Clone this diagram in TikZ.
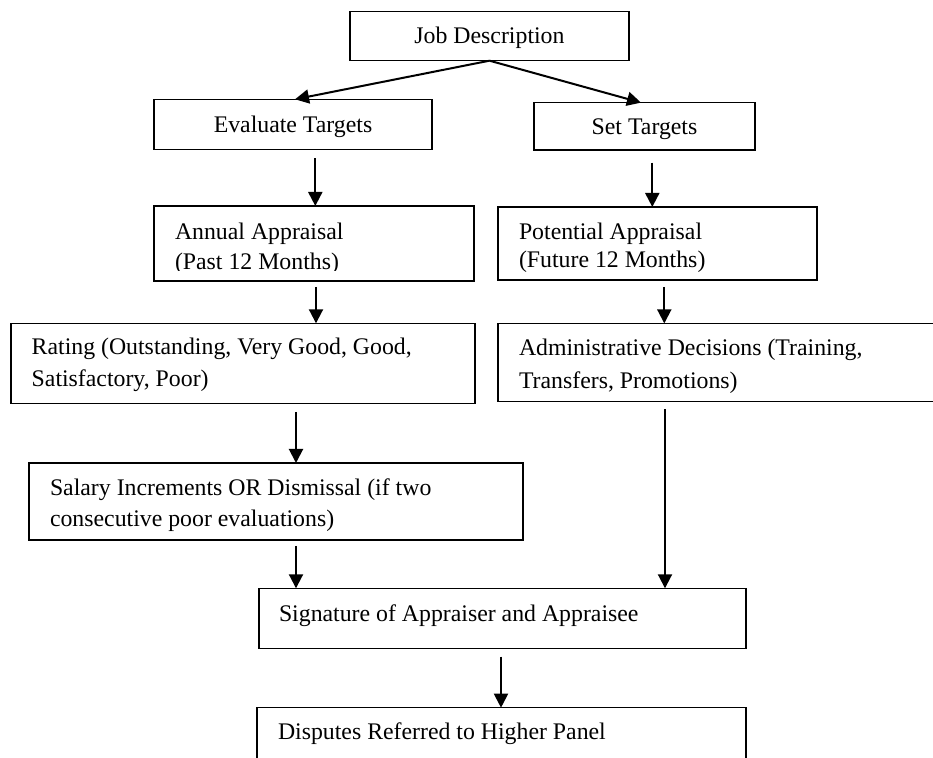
\documentclass[tikz,border=0pt]{standalone}
\usepackage{fontspec}
\setmainfont{Liberation Serif}
\usetikzlibrary{arrows.meta,calc}
\begin{document}
\begin{tikzpicture}[x=0.5pt,y=-0.5pt,
  box/.style={draw,line width=0.75pt,inner sep=0pt,outer sep=0pt},
  txt/.style={inner sep=0pt,outer sep=0pt,anchor=base west,font=\fontsize{11.9}{15}\selectfont},
  ctxt/.style={txt,anchor=base},
  arr/.style={line width=1pt,-{Triangle[length=7pt,width=7pt]}}]
\useasboundingbox (0,0) rectangle (933,758);
\clip (0,0) rectangle (933,758);

% boxes
\node[box,minimum width=139.5pt,minimum height=24.5pt] (job) at (489.5,36.2) {};
\node[box,minimum width=139pt,minimum height=25pt] (eval) at (293,124.3) {};
\node[box,minimum width=110.5pt,minimum height=23.65pt] (set) at (644.5,126.3) {};
\node[box,minimum width=160pt,minimum height=37.5pt] (annual) at (314,243.5) {};
\node[box,minimum width=159.5pt,minimum height=36.5pt] (potential) at (657.5,243.5) {};
\node[box,minimum width=232pt,minimum height=40pt] (rating) at (243,363.3) {};
\node[box,minimum width=224pt,minimum height=39pt] (admin) at (722,362.4) {};
\node[box,minimum width=247pt,minimum height=38.5pt] (salary) at (276,501.5) {};
\node[box,minimum width=243.5pt,minimum height=30pt] (sig) at (502.5,618.3) {};
\node[box,minimum width=244.5pt,minimum height=34pt] (disputes) at (501.5,741.7) {};

% texts
\node[ctxt] (jobt) at (489.5,44) {Job Description};
\node[ctxt] (evalt) at (293,132.5) {Evaluate Targets};
\node[ctxt] (sett) at (644.5,135) {Set Targets};
\node[txt] (annualt1) at (175,239.3) {Annual Appraisal};
\begin{scope}
\clip (150,245) rectangle (480,271);
\node[txt] (annualt2) at (175,269.3) {(Past 12 Months)};
\end{scope}
\node[txt] (potentialt1) at (519,240) {Potential Appraisal};
\node[txt] (potentialt2) at (519,267.3) {(Future 12 Months)};
\node[txt] (ratingt1) at (31.7,355) {Rating (Outstanding, Very Good, Good,};
\node[txt] (ratingt2) at (31.7,387) {Satisfactory, Poor)};
\node[txt] (admint1) at (519,355.7) {Administrative Decisions (Training,};
\node[txt] (admint2) at (519,388.3) {Transfers, Promotions)};
\node[txt] (salaryt1) at (50,495.5) {Salary Increments OR Dismissal (if two};
\node[txt] (salaryt2) at (50,526.7) {consecutive poor evaluations)};
\node[txt] (sigt) at (279,621.7) {Signature of Appraiser and Appraisee};
\node[txt] (disputest) at (278,740) {Disputes Referred to Higher Panel};

% connectors
\draw[arr] (job.south) -- ($(eval.north)+(2,0)$);
\draw[arr] (job.south) -- ($(set.north)+(-3.5,0)$);
\coordinate (a3) at ($(eval.south)+(22.3,9)$);
\draw[arr] (a3) -- (a3 |- annual.north);
\coordinate (a4) at ($(set.south)+(7.8,12.7)$);
\draw[arr] (a4) -- (a4 |- potential.north);
\coordinate (a5) at ($(annual.south)+(2,6)$);
\draw[arr] (a5) -- (a5 |- rating.north);
\coordinate (a6) at ($(potential.south)+(6.8,7)$);
\draw[arr] (a6) -- (a6 |- admin.north);
\coordinate (a7) at ($(rating.south)+(53,8.7)$);
\draw[arr] (a7) -- (a7 |- salary.north);
\coordinate (a8) at ($(admin.south)+(-57,7.8)$);
\draw[arr] (a8) -- (a8 |- sig.north);
\coordinate (a9) at ($(salary.south)+(20,6)$);
\draw[arr] (a9) -- (a9 |- sig.north);
\coordinate (a10) at ($(sig.south)+(-1.5,8.4)$);
\draw[arr] (a10) -- (a10 |- disputes.north);
\end{tikzpicture}
\end{document}
